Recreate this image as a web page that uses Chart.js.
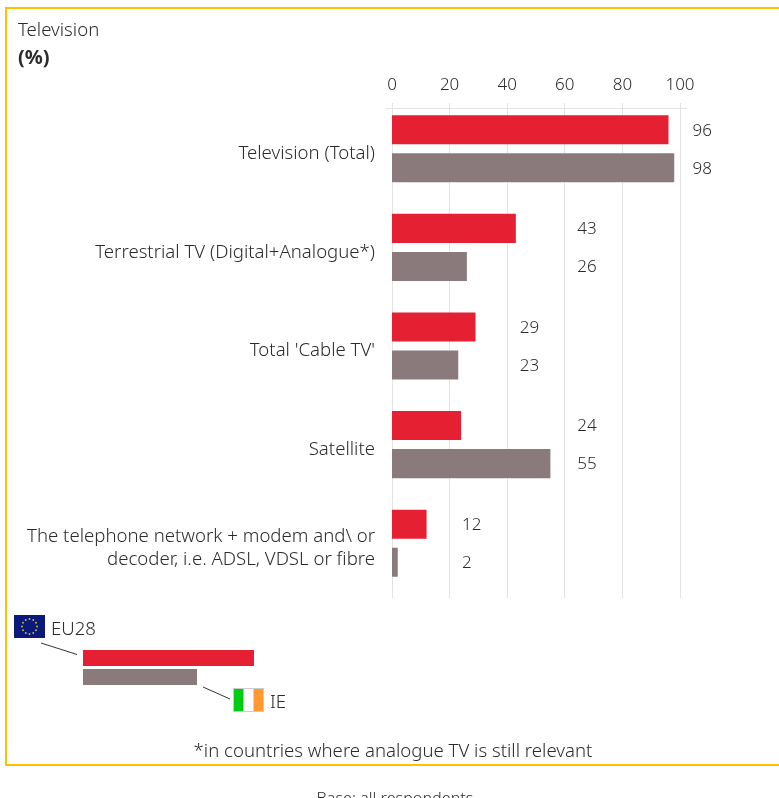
<!DOCTYPE html>
<html>
<head>
<meta charset="utf-8">
<title>Television</title>
<script src="https://cdn.jsdelivr.net/npm/chart.js@4"></script>
<style>
    html, body { margin: 0; padding: 0; background: #fff; overflow: hidden; }
    body { width: 779px; height: 798px; position: relative; font-family: "Noto Sans", sans-serif; font-weight: 300; color: #2b2b2b; }
    #wrap { position: absolute; left: 0; top: 0; width: 779px; height: 798px; }
    .abs { position: absolute; white-space: nowrap; }
    .frame { left: 5px; top: 7px; width: 774px; height: 755px; border: 2px solid #ffc000; border-right: 0; box-sizing: content-box; }
</style>
</head>
<body>
<div id="wrap"><canvas id="chart" width="779" height="798"></canvas></div>

<div class="abs frame"></div>
<div class="abs" style="left:18px;top:17px;font-size:18.6px;line-height:23px;">Television</div>
<div class="abs" style="left:18px;top:45px;font-size:20px;line-height:23px;font-weight:bold;">(%)</div>

<!-- legend key -->
<svg class="abs" style="left:14px;top:615px;" width="31" height="23" viewBox="0 0 31 23">
    <rect width="31" height="23" fill="#0a1a7a"/>
    <g id="stars" fill="#d8c020"></g>
</svg>
<div class="abs" style="left:51px;top:616px;font-size:18.6px;line-height:24px;">EU28</div>
<div class="abs" style="left:83px;top:650px;width:171px;height:16px;background:#e42032;"></div>
<div class="abs" style="left:83px;top:669px;width:114px;height:16px;background:#8a7a7c;"></div>
<svg class="abs" style="left:0;top:600px;" width="320" height="120">
    <line x1="41" y1="43" x2="77" y2="54.5" stroke="#333" stroke-width="1"/>
    <line x1="203" y1="87" x2="230" y2="99" stroke="#333" stroke-width="1"/>
</svg>
<svg class="abs" style="left:233px;top:688px;" width="31" height="24" viewBox="0 0 31 24">
    <rect width="31" height="24" fill="#fff"/>
    <rect width="10.5" height="24" fill="#00cc11"/>
    <rect x="20.5" width="10.5" height="24" fill="#ff9a33"/>
    <rect x="0.5" y="0.5" width="30" height="23" fill="none" stroke="#ccc"/>
</svg>
<div class="abs" style="left:270px;top:689px;font-size:18.6px;line-height:24px;">IE</div>

<div class="abs" style="left:0;width:786px;top:738px;text-align:center;font-size:18.6px;line-height:24px;">*in countries where analogue TV is still relevant</div>
<div class="abs" style="left:0;width:790px;top:787px;text-align:center;font-size:16.2px;line-height:22px;">Base: all respondents</div>

<script>
// Values
const categories = [
    'Television (Total)',
    'Terrestrial TV (Digital+Analogue*)',
    "Total 'Cable TV'",
    'Satellite',
    ['The telephone network + modem and\\ or', 'decoder, i.e. ADSL, VDSL or fibre']
];
const eu28Values = [96, 43, 29, 24, 12];
const ieValues = [98, 26, 23, 55, 2];
const tickValues = [0, 20, 40, 60, 80, 100];

const FONT = '"Noto Sans", sans-serif';
const TEXT = '#2b2b2b';
const GRID = '#e3e3e3';

// EU flag stars
const starGroup = document.getElementById('stars');
for (let i = 0; i < 12; i++) {
    const a = i * Math.PI / 6;
    const c = document.createElementNS('http://www.w3.org/2000/svg', 'circle');
    c.setAttribute('cx', 15.5 + 7.5 * Math.cos(a));
    c.setAttribute('cy', 11.5 + 7.5 * Math.sin(a));
    c.setAttribute('r', 0.9);
    starGroup.appendChild(c);
}

// Grid runs past the plot area and the axis line sits below the tick labels
const gridPlugin = {
    id: 'customGrid',
    beforeDatasetsDraw(chart) {
        const { ctx, scales: { x } } = chart;
        ctx.save();
        ctx.strokeStyle = GRID;
        ctx.lineWidth = 1;
        tickValues.forEach(v => {
            const px = Math.floor(x.getPixelForValue(v)) + 0.5;
            ctx.beginPath();
            ctx.moveTo(px, 103);
            ctx.lineTo(px, 598);
            ctx.stroke();
        });
        ctx.beginPath();
        ctx.moveTo(386, 108.5);
        ctx.lineTo(687, 108.5);
        ctx.stroke();
        ctx.restore();
    }
};

// Value labels sit in a column per category, just past the next 20 mark above the longest bar
const valueLabelPlugin = {
    id: 'valueLabels',
    afterDatasetsDraw(chart) {
        const { ctx, scales: { x } } = chart;
        ctx.save();
        ctx.font = '300 17px ' + FONT;
        ctx.fillStyle = TEXT;
        ctx.textAlign = 'left';
        ctx.textBaseline = 'middle';
        chart.data.datasets.forEach((ds, d) => {
            chart.getDatasetMeta(d).data.forEach((bar, i) => {
                const longest = Math.max(eu28Values[i], ieValues[i]);
                const column = Math.ceil(longest / 20) * 20 + 4;
                ctx.fillText(ds.data[i], x.getPixelForValue(column) + 1, bar.y + 1);
            });
        });
        ctx.restore();
    }
};

new Chart(document.getElementById('chart').getContext('2d'), {
    type: 'bar',
    data: {
        labels: categories,
        datasets: [
            { label: 'EU28', data: eu28Values, backgroundColor: '#e42032', borderWidth: 0 },
            { label: 'IE', data: ieValues, backgroundColor: '#8a7a7c', borderWidth: 0 }
        ]
    },
    options: {
        indexAxis: 'y',
        responsive: false,
        animation: false,
        categoryPercentage: 0.772,
        barPercentage: 0.763,
        layout: { padding: { left: 0, right: 99, top: 0, bottom: 205.5 } },
        plugins: { legend: { display: false }, tooltip: { enabled: false } },
        scales: {
            x: {
                position: 'top',
                min: 0,
                max: 100,
                afterFit: s => { s.height = 99.5; },
                afterBuildTicks: s => { s.ticks = tickValues.map(value => ({ value })); },
                grid: { display: false },
                border: { display: false },
                ticks: { color: TEXT, font: { family: FONT, size: 17, weight: '300' }, padding: -4, maxRotation: 0 }
            },
            y: {
                afterFit: s => { s.width = 392; },
                grid: { display: false },
                border: { display: false },
                ticks: { color: TEXT, font: { family: FONT, size: 18.6, weight: '300', lineHeight: 1.26 }, padding: 9, labelOffset: 5, autoSkip: false }
            }
        }
    },
    plugins: [gridPlugin, valueLabelPlugin]
});
</script>
</body>
</html>
